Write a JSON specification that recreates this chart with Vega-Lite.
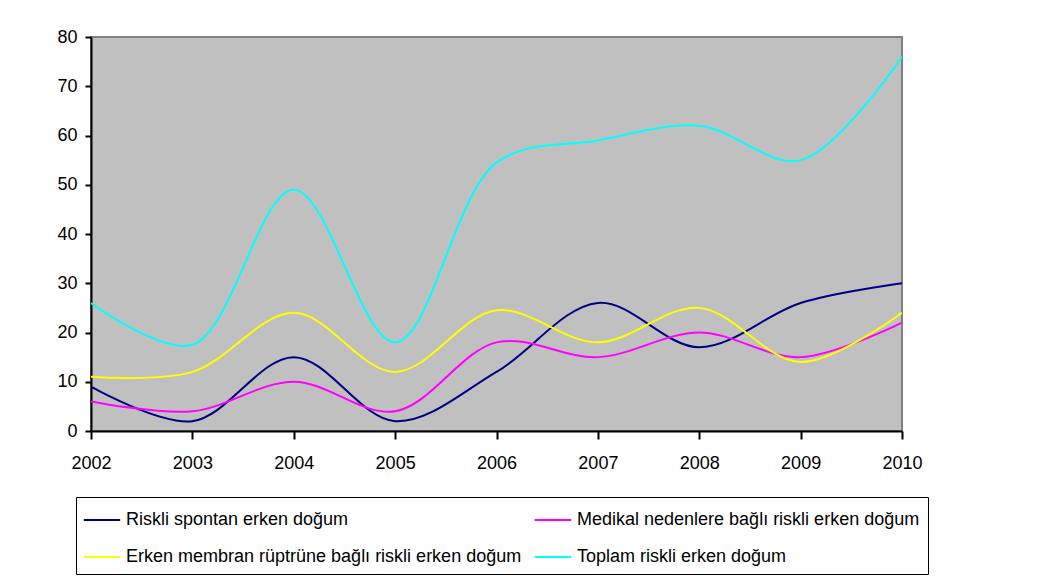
{
  "$schema": "https://vega.github.io/schema/vega-lite/v6.json",
  "autosize": "none",
  "width": 811,
  "height": 394,
  "padding": {"left": 91, "top": 37, "right": 142, "bottom": 147},
  "background": "white",
  "config": {
    "font": "Liberation Sans",
    "view": {"fill": "#C0C0C0", "stroke": "#808080", "strokeWidth": 2},
    "axis": {"domainColor": "black", "domainWidth": 2, "tickColor": "black", "tickWidth": 2, "labelColor": "black", "labelFontSize": 18, "grid": false, "title": null}
  },
  "data": {
    "values": [
      {"year": 2002, "series": "Riskli spontan erken doğum", "o": 1, "v": 9},
      {"year": 2003, "series": "Riskli spontan erken doğum", "o": 1, "v": 2},
      {"year": 2004, "series": "Riskli spontan erken doğum", "o": 1, "v": 15},
      {"year": 2005, "series": "Riskli spontan erken doğum", "o": 1, "v": 2},
      {"year": 2006, "series": "Riskli spontan erken doğum", "o": 1, "v": 12},
      {"year": 2007, "series": "Riskli spontan erken doğum", "o": 1, "v": 26},
      {"year": 2008, "series": "Riskli spontan erken doğum", "o": 1, "v": 17},
      {"year": 2009, "series": "Riskli spontan erken doğum", "o": 1, "v": 26},
      {"year": 2010, "series": "Riskli spontan erken doğum", "o": 1, "v": 30},
      {"year": 2002, "series": "Medikal nedenlere bağlı riskli erken doğum", "o": 2, "v": 6},
      {"year": 2003, "series": "Medikal nedenlere bağlı riskli erken doğum", "o": 2, "v": 4},
      {"year": 2004, "series": "Medikal nedenlere bağlı riskli erken doğum", "o": 2, "v": 10},
      {"year": 2005, "series": "Medikal nedenlere bağlı riskli erken doğum", "o": 2, "v": 4},
      {"year": 2006, "series": "Medikal nedenlere bağlı riskli erken doğum", "o": 2, "v": 18},
      {"year": 2007, "series": "Medikal nedenlere bağlı riskli erken doğum", "o": 2, "v": 15},
      {"year": 2008, "series": "Medikal nedenlere bağlı riskli erken doğum", "o": 2, "v": 20},
      {"year": 2009, "series": "Medikal nedenlere bağlı riskli erken doğum", "o": 2, "v": 15},
      {"year": 2010, "series": "Medikal nedenlere bağlı riskli erken doğum", "o": 2, "v": 22},
      {"year": 2002, "series": "Erken membran rüptrüne bağlı riskli erken doğum", "o": 3, "v": 11},
      {"year": 2003, "series": "Erken membran rüptrüne bağlı riskli erken doğum", "o": 3, "v": 12},
      {"year": 2004, "series": "Erken membran rüptrüne bağlı riskli erken doğum", "o": 3, "v": 24},
      {"year": 2005, "series": "Erken membran rüptrüne bağlı riskli erken doğum", "o": 3, "v": 12},
      {"year": 2006, "series": "Erken membran rüptrüne bağlı riskli erken doğum", "o": 3, "v": 24.5},
      {"year": 2007, "series": "Erken membran rüptrüne bağlı riskli erken doğum", "o": 3, "v": 18},
      {"year": 2008, "series": "Erken membran rüptrüne bağlı riskli erken doğum", "o": 3, "v": 25},
      {"year": 2009, "series": "Erken membran rüptrüne bağlı riskli erken doğum", "o": 3, "v": 14},
      {"year": 2010, "series": "Erken membran rüptrüne bağlı riskli erken doğum", "o": 3, "v": 24},
      {"year": 2002, "series": "Toplam riskli erken doğum", "o": 4, "v": 26},
      {"year": 2003, "series": "Toplam riskli erken doğum", "o": 4, "v": 17.5},
      {"year": 2004, "series": "Toplam riskli erken doğum", "o": 4, "v": 49},
      {"year": 2005, "series": "Toplam riskli erken doğum", "o": 4, "v": 18},
      {"year": 2006, "series": "Toplam riskli erken doğum", "o": 4, "v": 54.5},
      {"year": 2007, "series": "Toplam riskli erken doğum", "o": 4, "v": 59},
      {"year": 2008, "series": "Toplam riskli erken doğum", "o": 4, "v": 62},
      {"year": 2009, "series": "Toplam riskli erken doğum", "o": 4, "v": 55},
      {"year": 2010, "series": "Toplam riskli erken doğum", "o": 4, "v": 76}
    ]
  },
  "mark": {"type": "line", "interpolate": "catmull-rom", "strokeWidth": 2, "clip": true},
  "encoding": {
    "x": {
      "field": "year", "type": "quantitative",
      "scale": {"domain": [2002, 2010], "nice": false, "zero": false},
      "axis": {"values": [2002, 2003, 2004, 2005, 2006, 2007, 2008, 2009, 2010], "format": "d", "tickSize": 8, "labelPadding": 15, "labelFlush": false}
    },
    "y": {
      "field": "v", "type": "quantitative",
      "scale": {"domain": [0, 80], "nice": false},
      "axis": {"values": [0, 10, 20, 30, 40, 50, 60, 70, 80], "tickSize": 6, "labelPadding": 8}
    },
    "color": {
      "field": "series", "type": "nominal",
      "sort": {"field": "o"},
      "scale": {
        "domain": ["Riskli spontan erken doğum", "Medikal nedenlere bağlı riskli erken doğum", "Erken membran rüptrüne bağlı riskli erken doğum", "Toplam riskli erken doğum"],
        "range": ["#000080", "#FF00FF", "#FFFF00", "#00FFFF"]
      },
      "legend": {
        "title": null,
        "orient": "none",
        "legendX": -15,
        "legendY": 460,
        "direction": "horizontal",
        "columns": 2,
        "columnPadding": 8,
        "rowPadding": 13,
        "padding": 8,
        "strokeColor": "black",
        "symbolType": "M-1.3,0H1.3",
        "symbolSize": 784,
        "symbolStrokeWidth": 2,
        "symbolOffset": 3,
        "labelFontSize": 18,
        "labelColor": "black",
        "labelOffset": 9,
        "labelLimit": 600,
        "labelExpr": "indexof(datum.label, 'Medikal') == 0 ? datum.label + '\u00a0\u00a0\u00a0\u00a0\u00a0\u00a0\u00a0\u00a0' : datum.label"
      }
    }
  }
}
